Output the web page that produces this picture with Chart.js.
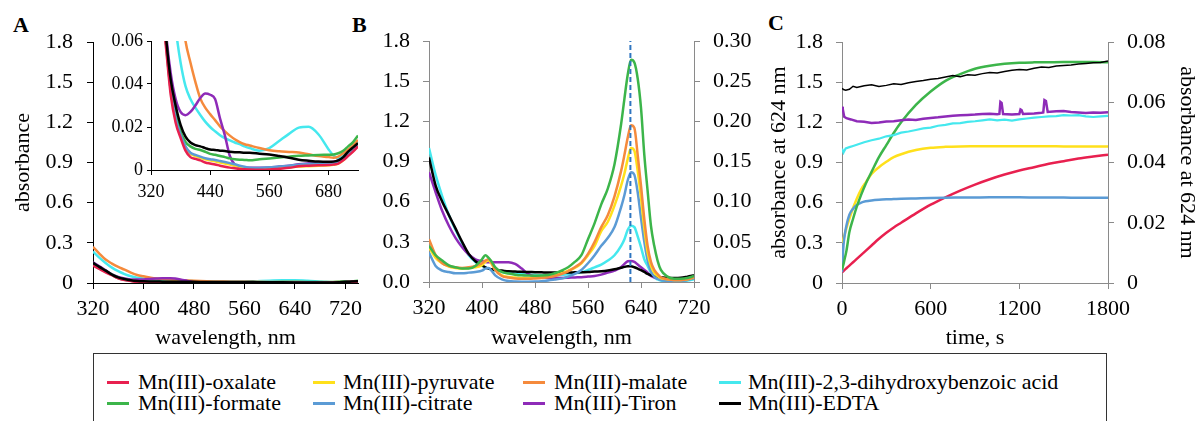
<!DOCTYPE html>
<html><head><meta charset="utf-8">
<script src="https://cdn.jsdelivr.net/npm/chart.js@4.4.1/dist/chart.umd.min.js"></script>
<style>
body{margin:0;background:#fff;width:1200px;height:421px;overflow:hidden;position:relative;font-family:"Liberation Serif","Times New Roman",serif;}
canvas{position:absolute;}
.pl{position:absolute;font-family:"Liberation Serif",serif;font-weight:bold;font-size:22px;line-height:22px;}
#legend{position:absolute;left:93px;top:353px;width:1014px;height:90px;border:1.5px solid #333;box-sizing:border-box;}
.it{position:absolute;font-family:"Liberation Serif",serif;font-size:22px;line-height:22px;white-space:nowrap;}
.sw{position:absolute;width:22px;height:3px;}
</style></head><body>
<div class="pl" style="left:13px;top:14px">A</div>
<div class="pl" style="left:352px;top:14px">B</div>
<div class="pl" style="left:768px;top:12px">C</div>
<canvas id="cA" width="372" height="352" style="left:0;top:0"></canvas>
<canvas id="cI" width="262" height="185" style="left:100px;top:25px"></canvas>
<canvas id="cB" width="400" height="352" style="left:360px;top:0"></canvas>
<canvas id="cC" width="440" height="352" style="left:760px;top:0"></canvas>
<div id="legend"></div>
<div id="items"></div>
<script>
// ---------- names & colours ----------
const seriesNames = ['Mn(III)-oxalate','Mn(III)-pyruvate','Mn(III)-malate','Mn(III)-2,3-dihydroxybenzoic acid',
                     'Mn(III)-formate','Mn(III)-citrate','Mn(III)-Tiron','Mn(III)-EDTA'];
const seriesColors = ['#E8204F','#FFE01B','#F58A3C','#45E8EE','#3CB54A','#5B9BD5','#8E2BB8','#000000'];

// ---------- panel A (and inset) ----------
const aWave = [320,330,340,350,360,370,380,390,400,410,420,430,440,450,460,470,480,490,500,510,520,540,560,580,600,620,640,660,680,690,700,710,720,730,740];
const aOxalate = [.13,.105,.08,.058,.035,.022,.015,.009,.006,.0052,.0045,.0035,.003,.0026,.002,.0015,.0011,.0008,.0005,.0003,.0002,.0001,.0002,.0006,.001,.0017,.002,.0022,.0023,.0025,.003,.0045,.0065,.0085,.011];
const aPyruvate = [.14,.11,.085,.06,.037,.024,.016,.0105,.0075,.0065,.0057,.005,.0045,.004,.0035,.003,.0025,.002,.0015,.001,.0008,.0006,.0008,.001,.0013,.0016,.0018,.002,.0022,.0024,.003,.0045,.0068,.0088,.0112];
const aMalate = [.27,.22,.175,.145,.12,.1,.078,.06,.05,.041,.0333,.029,.026,.0232,.0203,.018,.016,.0143,.013,.012,.0114,.0102,.0092,.0087,.0084,.0081,.0073,.0065,.006,.0057,.0062,.0078,.0095,.0115,.014];
const aDHBA = [.235,.19,.15,.115,.088,.066,.05,.039,.033,.029,.0256,.0225,.02,.018,.0162,.0148,.0138,.0128,.012,.011,.0102,.009,.0102,.0135,.0168,.0197,.0201,.0165,.0097,.0068,.0055,.0065,.0085,.0105,.013];
const aFormate = [.145,.115,.09,.062,.039,.026,.018,.013,.011,.0098,.0093,.0085,.0075,.0071,.0065,.006,.0054,.005,.0048,.0047,.0045,.005,.0054,.0058,.0062,.0066,.0068,.007,.0071,.0072,.0078,.009,.011,.013,.016];
const aCitrate = [.14,.11,.085,.06,.037,.024,.0165,.011,.008,.007,.0062,.0055,.005,.0047,.0042,.0037,.0032,.0027,.002,.0015,.0011,.0009,.0013,.0016,.002,.0025,.0028,.003,.003,.0032,.0038,.005,.0072,.009,.0115];
const aTiron = [.155,.125,.095,.065,.045,.033,.027,.0255,.027,.03,.0335,.0356,.035,.033,.024,.016,.0065,.0025,.0015,.0012,.0011,.0011,.0012,.0016,.002,.0027,.0031,.0034,.0036,.0038,.0045,.0055,.007,.0095,.012];
const aEDTA = [.15,.12,.092,.063,.042,.03,.021,.0155,.0128,.0116,.011,.0102,.0095,.0093,.009,.0088,.0085,.0083,.0082,.008,.008,.0076,.0072,.0065,.0057,.0048,.0043,.0039,.0038,.0039,.0045,.006,.0085,.0105,.0125];

// ---------- panel B ----------
const bWave = [320,330,340,350,360,370,380,390,400,405,410,415,420,430,440,450,460,470,480,490,500,510,520,530,540,550,560,570,580,590,600,610,615,620,625,630,635,640,645,650,655,660,665,670,680,690,700,710,720];
// left axis
const bFormate = [.27,.2,.16,.125,.11,.1,.1,.12,.17,.2,.18,.15,.11,.075,.063,.055,.05,.048,.047,.048,.052,.065,.085,.11,.15,.2,.32,.44,.58,.7,.88,1.18,1.37,1.55,1.66,1.64,1.52,1.3,.95,.68,.42,.27,.16,.09,.04,.025,.025,.03,.045];
const bMalate = [.32,.2,.14,.12,.11,.105,.11,.12,.14,.16,.17,.14,.09,.045,.033,.027,.025,.025,.027,.03,.035,.045,.06,.08,.11,.145,.21,.3,.41,.5,.64,.83,.95,1.08,1.17,1.15,.95,.72,.47,.27,.15,.09,.06,.035,.02,.015,.015,.02,.035];
const bPyruvate = [.26,.18,.14,.115,.105,.1,.105,.11,.125,.15,.16,.13,.09,.05,.038,.033,.03,.03,.032,.035,.04,.05,.065,.085,.105,.14,.2,.27,.38,.45,.57,.72,.81,.92,1.0,.98,.83,.63,.4,.22,.12,.07,.045,.03,.02,.015,.015,.02,.035];
const bCitrate = [.22,.12,.085,.075,.065,.065,.07,.075,.085,.1,.105,.08,.05,.02,.007,.003,.002,.002,.003,.006,.012,.018,.025,.04,.06,.09,.14,.2,.27,.33,.41,.56,.65,.76,.82,.8,.67,.48,.3,.16,.08,.04,.025,.015,.008,.005,.008,.015,.03];
// right axis
const bDHBA = [.1667,.1333,.1067,.0833,.065,.0483,.0333,.025,.02,.0183,.0167,.015,.0142,.0125,.0113,.0103,.0097,.0092,.0087,.0083,.0083,.0083,.0087,.0097,.0108,.0122,.015,.0183,.0217,.0267,.0333,.045,.0533,.065,.07,.0683,.0567,.0433,.0283,.02,.0117,.0058,.0033,.0017,.0008,.0008,.0008,.0017,.0033];
const bTiron = [.1367,.1117,.0883,.07,.055,.0433,.0342,.0283,.0258,.025,.0247,.0247,.0247,.0247,.0247,.0225,.0167,.01,.0067,.0055,.005,.005,.005,.0053,.0057,.006,.0067,.0075,.0092,.0117,.0142,.0183,.0225,.0258,.0262,.025,.0217,.0183,.015,.0117,.0075,.0058,.0042,.0033,.0028,.003,.0033,.0042,.005];
const bEDTA = [.155,.12,.1,.0833,.0667,.05,.035,.0258,.0208,.0183,.0167,.0158,.015,.0142,.0133,.013,.0127,.0125,.0122,.012,.0118,.0117,.0117,.0118,.012,.0122,.0123,.013,.0133,.0142,.0158,.0178,.0188,.0197,.0197,.0183,.0167,.0147,.0125,.01,.0083,.007,.0062,.0057,.005,.005,.0053,.0067,.0083];
const bMarkerX = [624,624];
const bMarkerY = [0,1.8];

// ---------- panel C ----------
const cTime = [0,10,20,30,50,75,100,130,160,200,250,300,350,400,500,600,700,800,900,1000,1100,1200,1300,1400,1500,1600,1700,1800];
const cOxalate = [.08,.09,.1,.11,.13,.155,.18,.21,.24,.28,.33,.375,.415,.45,.52,.585,.64,.69,.735,.775,.81,.84,.865,.89,.91,.93,.945,.958];
const cPyruvate = [.3,.33,.37,.41,.48,.56,.63,.7,.75,.815,.865,.905,.94,.962,.993,1.01,1.017,1.02,1.021,1.022,1.022,1.022,1.021,1.021,1.02,1.02,1.02,1.02];
const cFormate = [.1,.14,.19,.24,.38,.48,.57,.66,.74,.83,.94,1.03,1.12,1.2,1.33,1.43,1.51,1.56,1.6,1.623,1.637,1.645,1.648,1.649,1.65,1.65,1.65,1.648];
const cCitrate = [.08,.28,.37,.43,.51,.555,.583,.6,.61,.617,.622,.625,.627,.629,.632,.635,.637,.638,.639,.64,.64,.64,.639,.638,.638,.637,.637,.637];
// right axis
const cTimeN = [0,10,25,50,75,100,150,200,250,300,350,400,450,500,550,600,650,700,750,800,850,900,950,1000,1050,1100,1150,1200,1250,1300,1350,1400,1450,1500,1550,1600,1650,1700,1750,1800];
const cEDTA = [.0646,.0642,.064,.0643,.0653,.0649,.0655,.0658,.0652,.0656,.0661,.0659,.0665,.0669,.0672,.0676,.0679,.0684,.0689,.0685,.0691,.069,.0695,.0699,.0697,.0702,.0706,.0709,.0707,.0713,.0717,.0715,.072,.0722,.0724,.0727,.0729,.0731,.0732,.0737];
const cDHBA = [.0446,.0433,.0447,.0451,.0455,.0459,.0467,.0474,.0479,.0487,.0491,.0499,.0503,.0508,.0513,.0516,.0522,.0525,.053,.0531,.0535,.0537,.054,.0543,.054,.0542,.0539,.0543,.0546,.0549,.0551,.0553,.0554,.0557,.0556,.0557,.0553,.0551,.0553,.0555];
const cTimeT = [0,5,15,30,60,100,150,200,250,300,350,400,450,500,550,600,650,700,750,800,850,900,950,1000,1050,1065,1072,1080,1090,1150,1200,1208,1215,1225,1300,1350,1362,1370,1380,1392,1450,1500,1550,1600,1650,1700,1750,1800];
const cTiron = [.0585,.0578,.0552,.0547,.0543,.0537,.0535,.0531,.0533,.0536,.0537,.054,.0543,.0541,.0545,.0548,.055,.0553,.0555,.0557,.0558,.0559,.0561,.0562,.056,.0561,.0601,.0598,.0561,.0559,.0561,.0576,.0574,.0561,.0563,.0565,.0566,.0607,.0604,.0568,.057,.0571,.0568,.0566,.0564,.0566,.0565,.0567];

// ---------- tick positions ----------
const aXTicks = [320,400,480,560,640,720];
const iXTicks = [320,440,560,680];
const bXTicks = [320,400,480,560,640,720];
const cXTicks = [0,600,1200,1800];

// ---------- helpers ----------
const FONT = "'Liberation Serif','Times New Roman',serif";
Chart.defaults.font.family = FONT;
Chart.defaults.font.size = 22;
Chart.defaults.color = '#000';
function pts(xs, ys){ return xs.map((x,i)=>({x:x, y:ys[i]})); }
function line(i, xs, ys, w, extra){
  return Object.assign({label:seriesNames[i], data:pts(xs,ys), borderColor:seriesColors[i], backgroundColor:seriesColors[i],
    borderWidth:w, pointRadius:0, fill:false, cubicInterpolationMode:'monotone'}, extra||{});
}
function fix(size){ return function(s){ if(s.isHorizontal()) s.height=size; else s.width=size; }; }
function axis(o){
  const c = o.color;
  return {type:'linear', position:o.position, min:o.min, max:o.max,
    afterBuildTicks: o.at ? (s => { s.ticks = o.at.map(v => ({value:v})); }) : undefined,
    ticks:{stepSize:o.step, padding:o.pad, autoSkip:false, maxRotation:0, font:{family:FONT, size:o.fs||22}, callback:o.fmt},
    grid:{drawOnChartArea:false, drawTicks:true, tickLength:o.tl||6, color:c, lineWidth:1},
    border:{color:c, width:1},
    title: o.title ? {display:true, text:o.title, font:{family:FONT, size:22}, padding:o.tpad} : {display:false},
    afterFit: fix(o.size)};
}
const f1 = v => Math.abs(v)<1e-9 ? '0' : v.toFixed(1);
const f1z = v => v.toFixed(1);
const f2 = v => v.toFixed(2);
const f2z = v => Math.abs(v)<1e-9 ? '0' : v.toFixed(2);
const fi = v => String(Math.round(v));
const base = {responsive:false, animation:false, devicePixelRatio:1, events:[],
  plugins:{legend:{display:false}, tooltip:{enabled:false}}};

// ---------- Panel A ----------
const aSets = [aOxalate,aPyruvate,aMalate,aDHBA,aFormate,aCitrate,aTiron,aEDTA];
const drawOrder = [7,0,5,4,1,6,2,3];
new Chart(document.getElementById('cA'), {type:'line',
  data:{datasets: drawOrder.map(i => line(i, aWave, aSets[i], 2.5))},
  options:Object.assign({}, base, {layout:{padding:{left:0,top:42,right:14,bottom:0}},
    scales:{
      x: axis({position:'bottom', min:320, max:740, step:80, at:aXTicks, pad:7, fmt:fi, color:'#000', size:69,
               title:'wavelength, nm', tpad:{top:0,bottom:1}}),
      y: axis({position:'left', min:0, max:1.8, step:0.3, pad:14, fmt:f1, color:'#000', size:93,
               title:'absorbance', tpad:{top:10,bottom:0}})
    }})
});

// ---------- Inset ----------
new Chart(document.getElementById('cI'), {type:'line',
  data:{datasets: drawOrder.map(i => line(i, aWave, aSets[i], 2.5))},
  options:Object.assign({}, base, {layout:{padding:{left:0,top:16,right:4,bottom:0}},
    scales:{
      x: axis({position:'bottom', min:320, max:740, step:120, at:iXTicks, pad:6, fmt:fi, color:'#000', size:40, fs:18, tl:5}),
      y: axis({position:'left', min:0, max:0.06, step:0.02, pad:4, fmt:f2z, color:'#000', size:51, fs:18, tl:4})
    }})
});

// ---------- Panel B ----------
const GRAY = '#8a8a8a';
new Chart(document.getElementById('cB'), {type:'line',
  data:{datasets:[
    {label:'624 nm', data:pts(bMarkerX,bMarkerY), borderColor:'#2E75C0', borderWidth:2, borderDash:[5,3], pointRadius:0, fill:false},
    line(4, bWave, bFormate, 2.5),
    line(2, bWave, bMalate, 2.5),
    line(1, bWave, bPyruvate, 2.5),
    line(5, bWave, bCitrate, 2.5),
    line(7, bWave, bEDTA, 2.5, {yAxisID:'y2'}),
    line(6, bWave, bTiron, 2.5, {yAxisID:'y2'}),
    line(3, bWave, bDHBA, 2.5, {yAxisID:'y2'})
  ]},
  options:Object.assign({}, base, {layout:{padding:{left:0,top:41,right:0,bottom:0}},
    scales:{
      x: axis({position:'bottom', min:320, max:720, step:80, at:bXTicks, pad:7, fmt:fi, color:GRAY, size:70,
               title:'wavelength, nm', tpad:{top:0,bottom:1}}),
      y: axis({position:'left', min:0, max:1.8, step:0.3, pad:13, fmt:f1z, color:GRAY, size:69}),
      y2: axis({position:'right', min:0, max:0.3, step:0.05, pad:13, fmt:f2, color:GRAY, size:66})
    }})
});

// ---------- Panel C ----------
new Chart(document.getElementById('cC'), {type:'line',
  data:{datasets:[
    line(7, cTimeN, cEDTA, 1.5, {yAxisID:'y2', cubicInterpolationMode:'default', tension:0}),
    line(6, cTimeT, cTiron, 2.5, {yAxisID:'y2', cubicInterpolationMode:'default', tension:0}),
    line(3, cTimeN, cDHBA, 2.2, {yAxisID:'y2', cubicInterpolationMode:'default', tension:0}),
    line(4, cTime, cFormate, 2.5),
    line(5, cTime, cCitrate, 2.5),
    line(1, cTime, cPyruvate, 2.5),
    line(0, cTime, cOxalate, 2.5)
  ]},
  options:Object.assign({}, base, {layout:{padding:{left:0,top:42,right:0,bottom:0}},
    scales:{
      x: axis({position:'bottom', min:0, max:1800, step:600, at:cXTicks, pad:7, fmt:fi, color:GRAY, size:69,
               title:'time, s', tpad:{top:0,bottom:1}}),
      y: axis({position:'left', min:0, max:1.8, step:0.3, pad:13, fmt:f1, color:GRAY, size:82,
               title:'absorbance at 624 nm', tpad:{top:6,bottom:0}}),
      y2: axis({position:'right', min:0, max:0.08, step:0.02, pad:13, fmt:f2z, color:GRAY, size:92,
               title:'absorbance at 624 nm', tpad:{top:0,bottom:0}})
    }})
});

// ---------- Legend (HTML text) ----------
const legendCols = [[107,138],[313,343],[523,554],[719,748]];
const legendRows = [382,403];
const items = document.getElementById('items');
seriesNames.forEach((name,i) => {
  const col = legendCols[i%4], row = legendRows[Math.floor(i/4)];
  const sw = document.createElement('div'); sw.className='sw';
  sw.style.left = col[0]+'px'; sw.style.top = (row-1.5)+'px'; sw.style.background = seriesColors[i];
  const tx = document.createElement('div'); tx.className='it';
  tx.style.left = col[1]+'px'; tx.style.top = (row-11)+'px'; tx.textContent = name;
  items.appendChild(sw); items.appendChild(tx);
});
</script>
</body></html>
